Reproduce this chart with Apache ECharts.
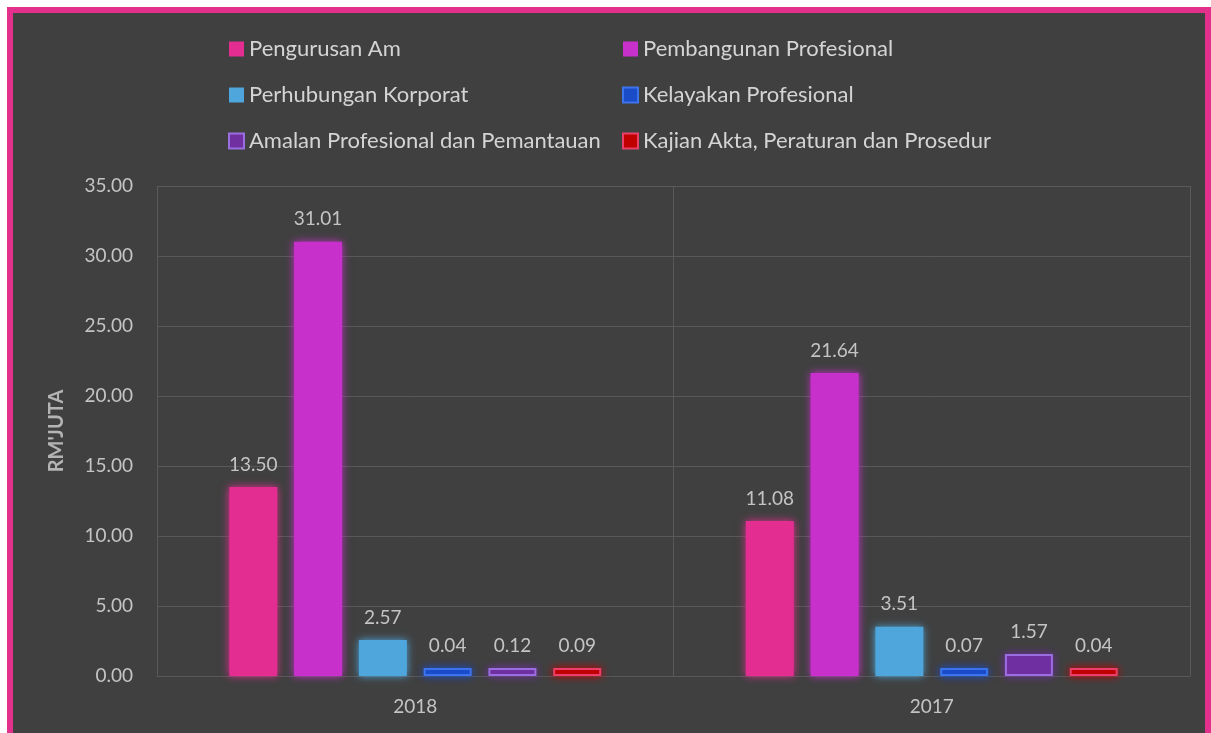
<!DOCTYPE html>
<html>
<head>
<meta charset="utf-8">
<script src="https://cdn.jsdelivr.net/npm/echarts@6/dist/echarts.min.js"></script>
<style>
  html, body { margin: 0; padding: 0; background: #ffffff; overflow: hidden; }
  #frame {
    position: absolute; left: 7px; top: 7px; width: 1204px; height: 760px;
    box-sizing: border-box; border: 6px solid #e2308d; background: #404040;
  }
  #chart { position: absolute; left: 0; top: 0; width: 1211px; height: 733px; }
</style>
</head>
<body>
<div id="frame"></div>
<div id="chart"></div>
<script>
// tahun
const years = ['2018', '2017']

// nama siri dan nilai (RM juta)
const seriesNames = [
  'Pengurusan Am',
  'Pembangunan Profesional',
  'Perhubungan Korporat',
  'Kelayakan Profesional',
  'Amalan Profesional dan Pemantauan',
  'Kajian Akta, Peraturan dan Prosedur'
]
const pengurusanAm = [13.50, 11.08]
const pembangunanProfesional = [31.01, 21.64]
const perhubunganKorporat = [2.57, 3.51]
const kelayakanProfesional = [0.04, 0.07]
const amalanProfesional = [0.12, 1.57]
const kajianAkta = [0.09, 0.04]

const values = [
  pengurusanAm,
  pembangunanProfesional,
  perhubunganKorporat,
  kelayakanProfesional,
  amalanProfesional,
  kajianAkta
]

const fills = ['#e32d91', '#c830cc', '#4ea6dc', '#1a4cc8', '#7030a0', '#c00000']
const borders = ['#e32d91', '#c830cc', '#4ea6dc', '#3d74ee', '#9a6ee0', '#e8406a']
const hasBorder = [false, false, false, true, true, true]

const font = 'Lato, "Noto Sans", sans-serif'

const chart = echarts.init(document.getElementById('chart'))

const series = seriesNames.map((name, i) => ({
  name: name,
  type: 'bar',
  data: values[i],
  barGap: '35%',
  barCategoryGap: '28%',
  barMinHeight: hasBorder[i] ? 8 : 0,
  itemStyle: {
    color: fills[i],
    borderColor: borders[i],
    borderWidth: hasBorder[i] ? 2 : 0,
    shadowColor: fills[i],
    shadowBlur: 8
  },
  label: {
    show: true,
    position: 'top',
    distance: 13,
    color: '#c4c4c4',
    fontFamily: font,
    fontSize: 19,
    formatter: p => p.value.toFixed(2)
  }
}))

const legendStyle = {
  orient: 'vertical',
  icon: 'rect',
  itemWidth: 15,
  itemHeight: 15,
  itemGap: 22,
  top: 32,
  textStyle: { color: '#d4d4d4', fontFamily: font, fontSize: 22, lineHeight: 24 }
}

chart.setOption({
  backgroundColor: 'transparent',
  animation: false,
  legend: [
    Object.assign({}, legendStyle, { left: 223, data: [seriesNames[0], seriesNames[2], seriesNames[4]] }),
    Object.assign({}, legendStyle, { left: 617, data: [seriesNames[1], seriesNames[3], seriesNames[5]] })
  ],
  grid: { left: 157, right: 21, top: 186, bottom: 57 },
  xAxis: {
    type: 'category',
    data: years,
    axisLine: { show: true, lineStyle: { color: '#595959' } },
    axisTick: { show: false },
    splitLine: { show: true, lineStyle: { color: '#595959' } },
    axisLabel: { color: '#c4c4c4', fontFamily: font, fontSize: 19, margin: 21 }
  },
  yAxis: {
    type: 'value',
    min: 0,
    max: 35,
    interval: 5,
    name: "RM'JUTA",
    nameLocation: 'middle',
    nameGap: 90,
    nameTextStyle: { color: '#b4b4b4', fontFamily: font, fontSize: 20, fontWeight: 'bold' },
    axisLine: { show: false },
    axisTick: { show: false },
    splitLine: { lineStyle: { color: '#595959' } },
    axisLabel: {
      color: '#c4c4c4',
      fontFamily: font,
      fontSize: 19,
      margin: 24,
      formatter: v => v.toFixed(2)
    }
  },
  series: series
})
</script>
</body>
</html>
